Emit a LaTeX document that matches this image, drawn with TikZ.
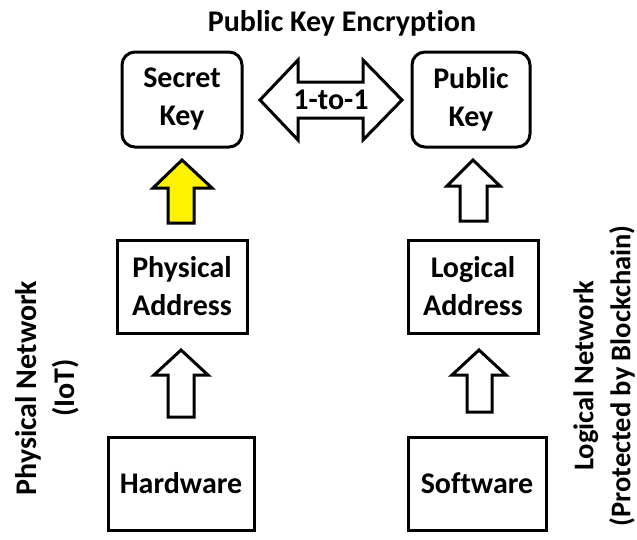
\documentclass[tikz,border=0pt]{standalone}
\usepackage{fontspec}
\setmainfont[Ligatures=NoCommon]{Carlito}
\begin{document}
\begin{tikzpicture}[x=1pt,y=-1pt,
  boxtext/.style={font=\bfseries\fontsize{30}{38}\selectfont, align=center},
  sqbox/.style={draw, line width=3pt, inner sep=0pt},
  rdbox/.style={draw, line width=3pt, rounded corners=13pt, inner sep=0pt},
  blockarrow/.style={draw, line width=3pt, line join=miter, fill=white},
  sidetext/.style={font=\bfseries\fontsize{30}{38}\selectfont, align=center, rotate=90, inner sep=0pt}]
\useasboundingbox (0,0) rectangle (637,539);
% title
\node[font=\bfseries\fontsize{30}{34}\selectfont] (title) at (342,23) {Public Key Encryption};
% boxes
\draw[rdbox] (122,52) rectangle (242,147);
\node[boxtext] (secret) at (182,99.5) {Secret\\Key};
\draw[rdbox] (412,52) rectangle (530,147);
\node[boxtext] (public) at (471,99.5) {Public\\Key};
\draw[sqbox] (117,240) rectangle (247,333);
\node[boxtext] (phys) at (182,286.5) {Physical\\Address};
\draw[sqbox] (408,240) rectangle (538,333);
\node[boxtext] (logic) at (473,286.5) {Logical\\Address};
\draw[sqbox] (108,437) rectangle (254,530);
\node[boxtext] (hw) at (181,483.5) {Hardware};
\draw[sqbox] (408,437) rectangle (546,530);
\node[boxtext] (sw) at (477,483.5) {Software};
% double arrow
\draw[blockarrow] (260,100) -- (298,60) -- (298,82) -- (363,82) -- (363,60) -- (402,100)
  -- (363,140) -- (363,118) -- (298,118) -- (298,140) -- cycle;
\node[boxtext] (one) at (331,100) {1-to-1};
% up arrows
\draw[blockarrow, fill=yellow] (182,160) -- (212,188) -- (194,188) -- (194,223) -- (168,223) -- (168,188) -- (153,188) -- cycle;
\draw[blockarrow] (473,160) -- (500,186) -- (487,186) -- (487,221) -- (460,221) -- (460,186) -- (447,186) -- cycle;
\draw[blockarrow] (181,350) -- (208,375) -- (194,375) -- (194,417) -- (168,417) -- (168,375) -- (154,375) -- cycle;
\draw[blockarrow] (479,350) -- (506,375) -- (492,375) -- (492,412) -- (467,412) -- (467,375) -- (452,375) -- cycle;
% side labels
\node[sidetext] (physnet) at (47,388) {Physical Network\\(IoT)};
\node[sidetext, font=\bfseries\fontsize{28.5}{37}\selectfont] (lognet) at (604,376) {Logical Network\\(Protected by Blockchain)};
\end{tikzpicture}
\end{document}
